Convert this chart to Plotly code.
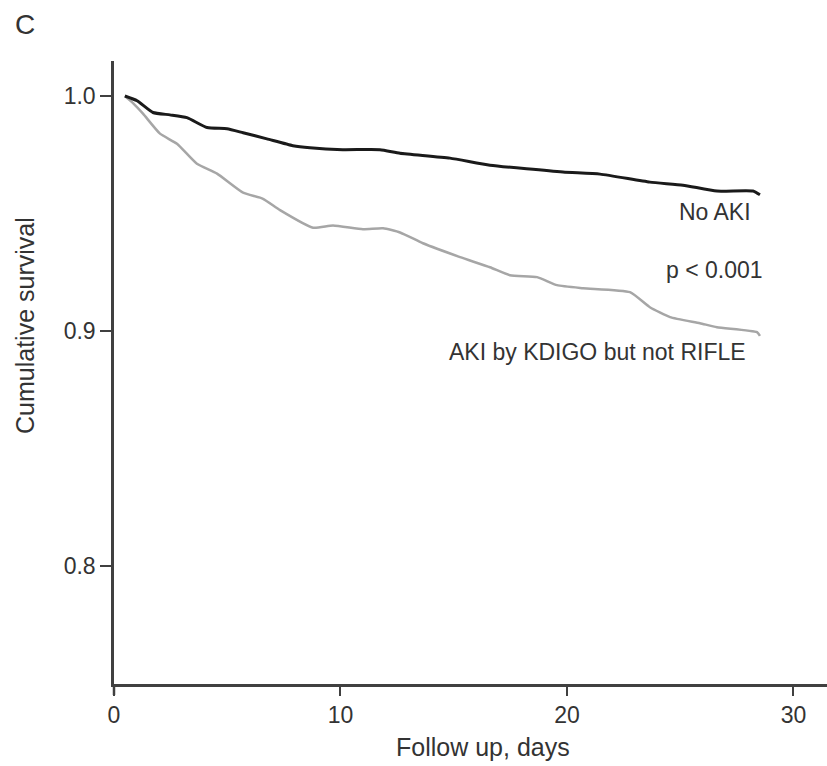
import plotly.graph_objects as go

# Data (days, cumulative survival)
no_aki_days = [0.48, 1.02, 1.72, 2.47, 3.22, 4.11, 4.99, 5.70, 6.75, 7.90, 8.65, 10.1, 11.74,
               12.63, 14.83, 16.6, 19.82, 21.46, 23.66, 25.12, 26.62, 28.21, 28.52]
no_aki_surv = [1.0, 0.998, 0.993, 0.992, 0.9908, 0.9866, 0.9861, 0.9844, 0.9818, 0.9789, 0.978,
               0.9772, 0.9772, 0.9757, 0.9736, 0.9706, 0.9677, 0.9668, 0.9634, 0.9621, 0.9596,
               0.9596, 0.958]

aki_days = [0.48, 0.84, 1.28, 2.03, 2.78, 3.66, 4.55, 5.70, 6.58, 7.33, 8.79, 9.67, 10.99, 11.88,
            12.63, 13.64, 15.28, 16.6, 17.48, 18.68, 19.56, 20.71, 22.78, 23.66, 24.55, 25.87,
            26.62, 28.39, 28.52]
aki_surv = [1.0, 0.997, 0.9925, 0.984, 0.9797, 0.9712, 0.967, 0.9589, 0.9563, 0.9515, 0.944, 0.945,
            0.9434, 0.9438, 0.942, 0.9374, 0.9315, 0.9272, 0.9238, 0.923, 0.9196, 0.9183, 0.9166,
            0.9102, 0.906, 0.9034, 0.9017, 0.8996, 0.898]

x_ticks = [0, 10, 20, 30]
y_ticks = [0.8, 0.9, 1.0]
y_tick_labels = ["0.8", "0.9", "1.0"]

labels = ["No AKI", "p < 0.001", "AKI by KDIGO but not RIFLE"]
label_x = [28.21, 28.74, 27.99]
label_y = [0.9506, 0.926, 0.891]

FONT = "Liberation Sans, Arial, sans-serif"
TXT = "#333333"

fig = go.Figure()
fig.add_trace(go.Scatter(x=aki_days, y=aki_surv, mode="lines",
                         line=dict(color="#a6a6a6", width=2.5, shape="spline", smoothing=0.5),
                         showlegend=False, hoverinfo="skip"))
fig.add_trace(go.Scatter(x=no_aki_days, y=no_aki_surv, mode="lines",
                         line=dict(color="#1a1a1a", width=3, shape="spline", smoothing=0.5),
                         showlegend=False, hoverinfo="skip"))

for t, xx, yy in zip(labels, label_x, label_y):
    fig.add_annotation(x=xx, y=yy, xref="x", yref="y", text=t, showarrow=False,
                       xanchor="right", yanchor="middle",
                       font=dict(family=FONT, size=23, color=TXT))

# Panel letter
fig.add_annotation(x=-0.142, y=(684 - 25) / 623, xref="paper", yref="paper", text="C",
                   showarrow=False, xanchor="left", yanchor="middle",
                   font=dict(family=FONT, size=28, color=TXT))
# Axis titles
fig.add_annotation(x=(483 - 114) / 713, y=-(747 - 684) / 623, xref="paper", yref="paper",
                   text="Follow up, days", showarrow=False, xanchor="center", yanchor="middle",
                   font=dict(family=FONT, size=25, color=TXT))
fig.add_annotation(x=-(114 - 25) / 713, y=(684 - 326) / 623, xref="paper", yref="paper",
                   text="Cumulative survival", showarrow=False, xanchor="center", yanchor="middle",
                   textangle=-90, font=dict(family=FONT, size=25, color=TXT))

# y-axis line continues slightly below the x axis
fig.add_shape(type="line", xref="paper", yref="paper", x0=0, x1=0, y0=0, y1=-11 / 623,
              line=dict(color="#404040", width=2.5))

fig.update_layout(
    width=827, height=766,
    margin=dict(l=114, r=0, t=61, b=82),
    paper_bgcolor="white", plot_bgcolor="white",
    font=dict(family=FONT, color=TXT),
    xaxis=dict(range=[0, 31.48], tickmode="array", tickvals=x_ticks,
               showgrid=False, zeroline=False, showline=True, linecolor="#404040", linewidth=2.5,
               ticks="outside", ticklen=9, tickwidth=2, tickcolor="#404040",
               tickfont=dict(family=FONT, size=23, color=TXT)),
    yaxis=dict(range=[0.75, 1.0149], tickmode="array", tickvals=y_ticks, ticktext=y_tick_labels,
               showgrid=False, zeroline=False, showline=True, linecolor="#404040", linewidth=2.5,
               ticks="outside", ticklen=11, tickwidth=2, tickcolor="#404040",
               tickfont=dict(family=FONT, size=23, color=TXT)),
)

fig.write_html("out.html")
